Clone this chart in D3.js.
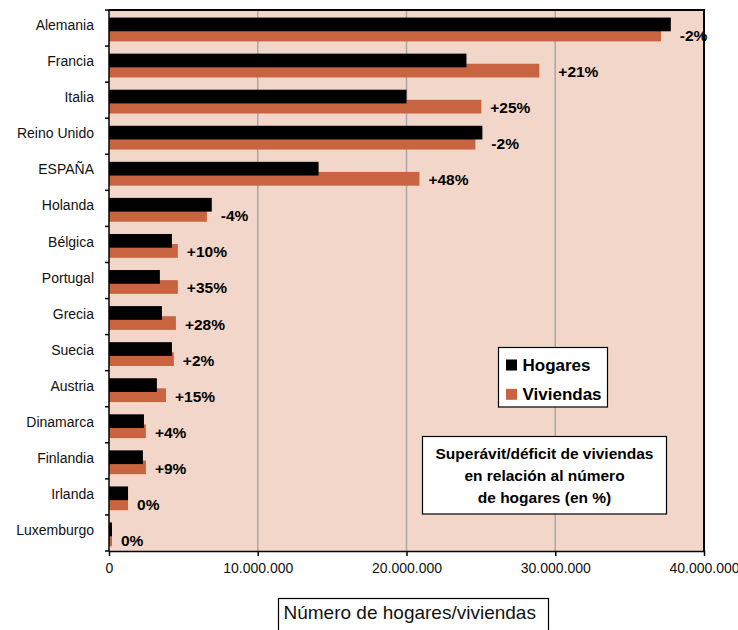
<!DOCTYPE html>
<html>
<head>
<meta charset="utf-8">
<script src="https://cdn.jsdelivr.net/npm/d3@7"></script>
<style>
  html, body { margin: 0; padding: 0; background: #fff; }
  svg { display: block; font-family: "Liberation Sans", Arial, sans-serif; }
</style>
</head>
<body>
<svg id="chart" width="738" height="630"></svg>
<script>
const categories = ["Alemania","Francia","Italia","Reino Unido","ESPAÑA","Holanda","Bélgica","Portugal","Grecia","Suecia","Austria","Dinamarca","Finlandia","Irlanda","Luxemburgo"];
const hogares   = [37770000,24030000,20000000,25100000,14090000,6910000,4230000,3420000,3560000,4230000,3220000,2350000,2280000,1280000,200000];
const viviendas = [37110000,28930000,25030000,24630000,20870000,6580000,4630000,4630000,4500000,4360000,3830000,2480000,2480000,1280000,200000];
const pctLabels = ["-2%","+21%","+25%","-2%","+48%","-4%","+10%","+35%","+28%","+2%","+15%","+4%","+9%","0%","0%"];
const xTicks = [0,10000000,20000000,30000000,40000000];
const xTickLabels = ["0","10.000.000","20.000.000","30.000.000","40.000.000"];
const seriesNames = ["Hogares","Viviendas"];
const seriesColors = ["#000000","#c8643f"];
const noteLines = ["Superávit/déficit de viviendas","en relación al número","de hogares (en %)"];
const xTitle = "Número de hogares/viviendas";

const svg = d3.select("#chart");
const L = 109, R = 704, T = 10, B = 551;

const x = d3.scaleLinear().domain([0, 40000000]).range([L, R]);
const y = d3.scaleBand().domain(categories).range([T, B]).paddingInner(0).paddingOuter(0);
const bw = y.bandwidth();

// plot background
svg.append("rect").attr("x", L).attr("y", T).attr("width", R - L).attr("height", B - T)
  .attr("fill", "#f2d6c9");

// gridlines
svg.append("g").selectAll("line").data(xTicks.slice(1, -1)).join("line")
  .attr("x1", d => x(d)).attr("x2", d => x(d)).attr("y1", T).attr("y2", B)
  .attr("stroke", "#a8a8a8").attr("stroke-width", 1.5);

// bars: viviendas below, hogares drawn on top
const barH = bw * 0.38;
svg.append("g").selectAll("rect").data(categories).join("rect")
  .attr("x", x(0)).attr("y", d => y(d) + bw * 0.49)
  .attr("width", (d, i) => x(viviendas[i]) - x(0)).attr("height", barH)
  .attr("fill", seriesColors[1]);
svg.append("g").selectAll("rect").data(categories).join("rect")
  .attr("x", x(0)).attr("y", d => y(d) + bw * 0.21)
  .attr("width", (d, i) => x(hogares[i]) - x(0)).attr("height", barH)
  .attr("fill", seriesColors[0]);

// border top/right
svg.append("path")
  .attr("d", `M${L},${T}H${R}V${B}`)
  .attr("fill", "none").attr("stroke", "#000").attr("stroke-width", 2);

// percentage labels
svg.append("g").selectAll("text").data(categories).join("text")
  .attr("x", (d, i) => x(Math.max(hogares[i], viviendas[i])) + 9 + (i === 1 ? 10 : 0))
  .attr("y", d => y(d) + 31)
  .attr("font-size", 15.5).attr("font-weight", "bold").attr("fill", "#000")
  .text((d, i) => pctLabels[i]);

// y axis
const yAxis = svg.append("g").attr("transform", `translate(${L},0)`);
yAxis.append("line").attr("x1", 0).attr("x2", 0).attr("y1", T).attr("y2", B)
  .attr("stroke", "#000").attr("stroke-width", 1.5);
const bounds = d3.range(categories.length + 1).map(i => T + i * bw);
yAxis.selectAll("line.tk").data(bounds).join("line").attr("class", "tk")
  .attr("x1", -4).attr("x2", 0).attr("y1", d => d).attr("y2", d => d)
  .attr("stroke", "#000").attr("stroke-width", 1.5);
yAxis.selectAll("text").data(categories).join("text")
  .attr("x", -15).attr("y", d => y(d) + bw * 0.42)
  .attr("text-anchor", "end").attr("dominant-baseline", "central")
  .attr("font-size", 14).attr("fill", "#111")
  .text(d => d);

// x axis
const xAxis = d3.axisBottom(x).tickValues(xTicks).tickFormat((d, i) => xTickLabels[i])
  .tickSizeInner(5).tickSizeOuter(0).tickPadding(7);
const gx = svg.append("g").attr("transform", `translate(0,${B})`).call(xAxis);
gx.select(".domain").attr("stroke", "#000").attr("stroke-width", 1.5);
gx.selectAll(".tick line").attr("stroke", "#000").attr("stroke-width", 1.5);
gx.selectAll(".tick text").attr("font-size", 14).attr("fill", "#111")
  .attr("font-family", "'Liberation Sans', Arial, sans-serif");

// legend
const lg = svg.append("g");
lg.append("rect").attr("x", 498.5).attr("y", 347.5).attr("width", 109).attr("height", 59.5)
  .attr("fill", "#fff").attr("stroke", "#000").attr("stroke-width", 1.2);
seriesNames.forEach((s, i) => {
  const cy = 365 + i * 29.3;
  lg.append("rect").attr("x", 506).attr("y", cy - 5.5).attr("width", 11).attr("height", 11)
    .attr("fill", seriesColors[i]);
  lg.append("text").attr("x", 522.5).attr("y", cy).attr("dominant-baseline", "central")
    .attr("font-size", 17).attr("font-weight", "bold").attr("fill", "#000").text(s);
});

// note box
const nb = svg.append("g");
nb.append("rect").attr("x", 422.5).attr("y", 436.5).attr("width", 244).attr("height", 77.5)
  .attr("fill", "#fff").attr("stroke", "#000").attr("stroke-width", 1.2);
noteLines.forEach((t, i) => {
  nb.append("text").attr("x", 544.5).attr("y", 453.5 + i * 22.2)
    .attr("text-anchor", "middle").attr("dominant-baseline", "central")
    .attr("font-size", 15.5).attr("font-weight", "bold").attr("fill", "#000").text(t);
});

// x title box
const tb = svg.append("g");
tb.append("rect").attr("x", 278.5).attr("y", 598.5).attr("width", 270).attr("height", 40)
  .attr("fill", "#fff").attr("stroke", "#000").attr("stroke-width", 1.2);
tb.append("text").attr("x", 283.5).attr("y", 612).attr("dominant-baseline", "central")
  .attr("font-size", 19).attr("fill", "#111").text(xTitle);
</script>
</body>
</html>
